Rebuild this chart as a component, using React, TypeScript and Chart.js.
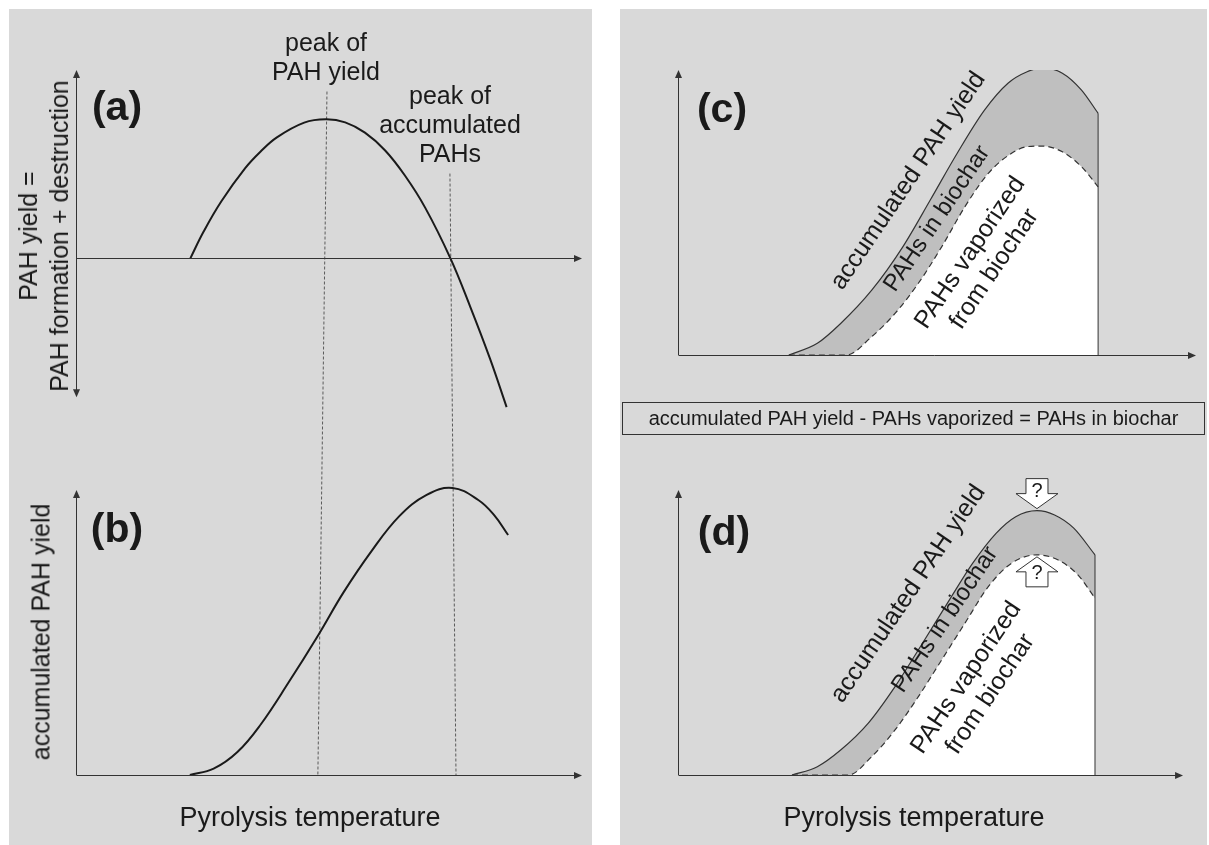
import React, { useEffect, useRef } from "react";
import { Chart, registerables } from "chart.js";

Chart.register(...registerables);

// ---------------- values ----------------
// x = pyrolysis temperature on a schematic 0–100 scale (axis origin = 0, arrow tip = 100)

// (a) PAH yield = PAH formation + destruction (peak = 1)
const tempA = [22.6, 25.2, 28.7, 33.4, 36.4, 39.7, 45.1, 49.4, 53.2, 57.1, 61.1, 65.0, 69.0, 74.0, 77.9, 81.8, 85.1];
const yieldA = [0, 0.191, 0.409, 0.647, 0.765, 0.87, 0.976, 1.0, 0.978, 0.904, 0.776, 0.596, 0.365, 0, -0.347, -0.72, -1.07];

// (b) accumulated PAH yield
const tempB = [22.5, 27.2, 31.9, 36.5, 42.0, 47.9, 52.9, 58.4, 63.9, 69.3, 74.4, 79.5, 82.6, 85.4];
const accB = [0, 0.022, 0.08, 0.176, 0.322, 0.488, 0.637, 0.78, 0.902, 0.976, 1.0, 0.958, 0.906, 0.836];

// (c) accumulated PAH yield and PAHs vaporized from biochar
const tempCAcc = [21.4, 26.9, 31.4, 37.4, 43.4, 48.7, 53.9, 59.2, 63.7, 67.4, 70.4, 74.2, 77.9, 81.1];
const accC = [0, 0.041, 0.11, 0.226, 0.377, 0.54, 0.703, 0.854, 0.947, 0.987, 1.0, 0.982, 0.923, 0.842];
const tempCVap = [21.4, 32.5, 37.4, 41.9, 46.4, 50.9, 55.4, 59.9, 64.4, 67.4, 70.4, 74.2, 77.9, 81.1];
const vapC = [0, 0, 0.064, 0.145, 0.25, 0.377, 0.517, 0.633, 0.703, 0.726, 0.728, 0.708, 0.656, 0.586];

// (d) accumulated PAH yield and PAHs vaporized from biochar
const tempDAcc = [22.0, 26.9, 31.4, 36.7, 41.9, 47.2, 52.4, 56.9, 61.4, 65.2, 69.3, 72.7, 76.4, 80.5];
const accD = [0, 0.029, 0.087, 0.18, 0.308, 0.459, 0.61, 0.738, 0.842, 0.9, 0.921, 0.906, 0.86, 0.767];
const tempDVap = [22.0, 32.9, 37.4, 41.9, 46.4, 50.9, 55.4, 59.9, 64.4, 69.3, 73.4, 77.2, 80.5];
const vapD = [0, 0, 0.064, 0.157, 0.273, 0.401, 0.529, 0.656, 0.738, 0.767, 0.749, 0.697, 0.616];

// dotted guides: temperature of each peak at their top end (panel a) and bottom end (panel b)
const guideTopTemp = [49.6, 73.9];
const guideBottomTemp = [47.8, 75.1];
const guideTopLevel = [1.2, 0.61];

// scale ranges of each panel's value axis
const rangeA = [-3.717, 1.355];
const rangeB = [0, 2.456];
const rangeC = [-1.463, 0.993];
const rangeD = [0, 2.456];

// ---------------- styles ----------------
const FONT = '"Liberation Sans", Arial, Helvetica, sans-serif';
const INK = "#1a1a1a";
const AXIS = "#333333";
const PANEL_BG = "#d9d9d9";
const BAND = "#bfbfbf";

const toXY = (xs: number[], ys: number[]) => xs.map((x, i) => ({ x, y: ys[i] }));
const last = (a: number[]) => a[a.length - 1];

function arrowHead(ctx: CanvasRenderingContext2D, x: number, y: number, dir: "up" | "down" | "right") {
  const L = 8, W = 3.5;
  ctx.beginPath();
  if (dir === "right") {
    ctx.moveTo(x, y); ctx.lineTo(x - L, y - W); ctx.lineTo(x - L, y + W);
  } else if (dir === "up") {
    ctx.moveTo(x, y); ctx.lineTo(x - W, y + L); ctx.lineTo(x + W, y + L);
  } else {
    ctx.moveTo(x, y); ctx.lineTo(x - W, y - L); ctx.lineTo(x + W, y - L);
  }
  ctx.closePath();
  ctx.fill();
}

const schematicPlugin = {
  id: "schematic",
  beforeDatasetsDraw(chart: any, _a: any, opts: any) {
    const ctx: CanvasRenderingContext2D = chart.ctx;
    const xs = chart.scales.x;
    ctx.save();
    ctx.strokeStyle = "#5a5a5a";
    ctx.lineWidth = 1;
    ctx.setLineDash([3, 2]);
    (opts.guides || []).forEach((g: any) => {
      ctx.beginPath();
      ctx.moveTo(xs.getPixelForValue(g.x1), chart.scales[g.axis1].getPixelForValue(g.y1));
      ctx.lineTo(xs.getPixelForValue(g.x2), chart.scales[g.axis2].getPixelForValue(g.y2));
      ctx.stroke();
    });
    ctx.restore();
  },
  afterDatasetsDraw(chart: any, _a: any, opts: any) {
    const ctx: CanvasRenderingContext2D = chart.ctx;
    const xs = chart.scales.x;
    ctx.save();
    ctx.strokeStyle = AXIS;
    ctx.fillStyle = AXIS;
    ctx.lineWidth = 1;
    (opts.axes || []).forEach((a: any) => {
      const ys = chart.scales[a.axis];
      const x0 = Math.round(xs.getPixelForValue(0)) + 0.5;
      const xEnd = xs.getPixelForValue(a.xTo);
      const yBase = Math.round(ys.getPixelForValue(0)) + 0.5;
      const yTop = ys.getPixelForValue(a.yTo);
      const yBot = ys.getPixelForValue(a.yFrom);
      ctx.beginPath();
      ctx.moveTo(x0, yBase);
      ctx.lineTo(xEnd - 6, yBase);
      ctx.stroke();
      arrowHead(ctx, xEnd, yBase, "right");
      ctx.beginPath();
      ctx.moveTo(x0, a.double ? yBot - 6 : yBot);
      ctx.lineTo(x0, yTop + 6);
      ctx.stroke();
      arrowHead(ctx, x0, yTop, "up");
      if (a.double) arrowHead(ctx, x0, yBot, "down");
    });
    (opts.marks || []).forEach((m: any) => {
      const ys = chart.scales[m.axis];
      let k = 0;
      m.ys.forEach((v: number, i: number) => { if (v > m.ys[k]) k = i; });
      const tx = xs.getPixelForValue(m.xs[k]);
      const s = m.dir === "down" ? -1 : 1;
      const ty = ys.getPixelForValue(m.ys[k]) + 2 * s;
      const headL = 15, headW = 21, boxW = 11, boxL = 15;
      ctx.beginPath();
      ctx.moveTo(tx, ty);
      ctx.lineTo(tx + headW, ty + s * headL);
      ctx.lineTo(tx + boxW, ty + s * headL);
      ctx.lineTo(tx + boxW, ty + s * (headL + boxL));
      ctx.lineTo(tx - boxW, ty + s * (headL + boxL));
      ctx.lineTo(tx - boxW, ty + s * headL);
      ctx.lineTo(tx - headW, ty + s * headL);
      ctx.closePath();
      ctx.fillStyle = "#ffffff";
      ctx.fill();
      ctx.strokeStyle = AXIS;
      ctx.stroke();
      ctx.fillStyle = INK;
      ctx.font = `20px ${FONT}`;
      ctx.textAlign = "center";
      ctx.textBaseline = "middle";
      ctx.fillText("?", tx, ty + s * (headL + 2));
    });
    ctx.restore();
  },
};

const curve = (xs: number[], ys: number[], axis: string, extra: any = {}) => ({
  data: toXY(xs, ys),
  yAxisID: axis,
  pointRadius: 0,
  cubicInterpolationMode: "monotone",
  fill: false,
  ...extra,
});

const baseOptions = (padding: any, scales: any, schematic: any) => ({
  responsive: false,
  animation: false,
  events: [],
  layout: { padding },
  scales,
  plugins: { legend: { display: false }, tooltip: { enabled: false }, schematic },
});

function leftConfig(): any {
  return {
    type: "line",
    data: {
      datasets: [
        curve(tempA, yieldA, "ya", { borderColor: INK, borderWidth: 2, cubicInterpolationMode: "default", tension: 0.4 }),
        curve(tempB, accB, "yb", { borderColor: INK, borderWidth: 2, cubicInterpolationMode: "default", tension: 0.4 }),
      ],
    },
    options: baseOptions(
      { left: 67, right: 10, top: 61, bottom: 70 },
      {
        x: { type: "linear", min: 0, max: 100, display: false },
        ya: { type: "linear", position: "left", min: rangeA[0], max: rangeA[1], display: false },
        yb: { type: "linear", position: "left", min: rangeB[0], max: rangeB[1], display: false },
      },
      {
        guides: guideTopTemp.map((t, i) => ({
          x1: t, y1: guideTopLevel[i], axis1: "ya",
          x2: guideBottomTemp[i], y2: 0, axis2: "yb",
        })),
        axes: [
          { axis: "ya", yFrom: -1.0, yTo: rangeA[1], xTo: 100, double: true },
          { axis: "yb", yFrom: 0, yTo: 0.993, xTo: 100 },
        ],
      }
    ),
    plugins: [schematicPlugin],
  };
}

function panelSets(tAcc: number[], acc: number[], tVap: number[], vap: number[], axis: string) {
  return [
    {
      data: [{ x: last(tAcc), y: 0 }, { x: last(tAcc), y: last(acc) }],
      yAxisID: axis, pointRadius: 0, borderColor: AXIS, borderWidth: 1, fill: false, order: -1,
    },
    curve(tVap, vap, axis, {
      borderColor: AXIS, borderWidth: 1.2, borderDash: [6, 4],
      fill: { value: 0 }, backgroundColor: "#ffffff", order: 0,
    }),
    curve(tAcc, acc, axis, {
      borderColor: AXIS, borderWidth: 1.2,
      fill: { value: 0 }, backgroundColor: BAND, order: 1,
    }),
  ];
}

function rightConfig(): any {
  return {
    type: "line",
    data: {
      datasets: [
        ...panelSets(tempCAcc, accC, tempCVap, vapC, "yc"),
        ...panelSets(tempDAcc, accD, tempDVap, vapD, "yd"),
      ],
    },
    options: baseOptions(
      { left: 58, right: 11, top: 61, bottom: 70 },
      {
        x: { type: "linear", min: 0, max: 100, display: false },
        yc: { type: "linear", position: "left", min: rangeC[0], max: rangeC[1], display: false },
        yd: { type: "linear", position: "left", min: rangeD[0], max: rangeD[1], display: false },
      },
      {
        axes: [
          { axis: "yc", yFrom: 0, yTo: 0.993, xTo: 100 },
          { axis: "yd", yFrom: 0, yTo: 0.993, xTo: 97.5 },
        ],
        marks: [
          { axis: "yd", xs: tempDAcc, ys: accD, dir: "down" },
          { axis: "yd", xs: tempDVap, ys: vapD, dir: "up" },
        ],
      }
    ),
    plugins: [schematicPlugin],
  };
}

type LabelProps = {
  lines: string[];
  cx: number;
  cy: number;
  size?: number;
  lh?: number;
  rot?: number;
  bold?: boolean;
};

function Label({ lines, cx, cy, size = 25, lh, rot = 0, bold = false }: LabelProps) {
  return (
    <div
      style={{
        position: "absolute",
        left: cx,
        top: cy,
        transform: `translate(-50%, -50%) rotate(${rot}deg)`,
        whiteSpace: "nowrap",
        textAlign: "center",
        fontFamily: FONT,
        fontSize: size,
        fontWeight: bold ? 700 : 400,
        lineHeight: `${lh ?? Math.round(size * 1.15)}px`,
        color: INK,
      }}
    >
      {lines.map((l, i) => (
        <div key={i}>{l}</div>
      ))}
    </div>
  );
}

export default function App() {
  const leftRef = useRef<HTMLCanvasElement>(null);
  const rightRef = useRef<HTMLCanvasElement>(null);

  useEffect(() => {
    const left = new Chart(leftRef.current as HTMLCanvasElement, leftConfig());
    const right = new Chart(rightRef.current as HTMLCanvasElement, rightConfig());
    return () => {
      left.destroy();
      right.destroy();
    };
  }, []);

  const panel = (left: number, width: number): React.CSSProperties => ({
    position: "absolute",
    left,
    top: 9,
    width,
    height: 836,
    background: PANEL_BG,
  });

  return (
    <div
      style={{
        position: "fixed",
        left: 0,
        top: 0,
        width: 1209,
        height: 845,
        background: "#ffffff",
        overflow: "hidden",
      }}
    >
      <div style={panel(9, 583)} />
      <div style={panel(620, 587)} />
      <canvas
        ref={leftRef}
        width={583}
        height={836}
        style={{ position: "absolute", left: 9, top: 9, width: 583, height: 836 }}
      />
      <canvas
        ref={rightRef}
        width={587}
        height={836}
        style={{ position: "absolute", left: 620, top: 9, width: 587, height: 836 }}
      />

      {/* left panel texts */}
      <Label lines={["peak of", "PAH yield"]} cx={326} cy={57} lh={29} />
      <Label lines={["peak of", "accumulated", "PAHs"]} cx={450} cy={124} lh={29} />
      <Label lines={["(a)"]} cx={117} cy={106} size={41} bold />
      <Label lines={["(b)"]} cx={117} cy={528} size={41} bold />
      <Label lines={["PAH yield =", "PAH formation + destruction"]} cx={44} cy={236} rot={-90} lh={31} />
      <Label lines={["accumulated PAH yield"]} cx={41} cy={632} rot={-90} />
      <Label lines={["Pyrolysis temperature"]} cx={310} cy={817} size={27} />

      {/* right panel texts */}
      <Label lines={["(c)"]} cx={722} cy={108} size={41} bold />
      <Label lines={["(d)"]} cx={724} cy={531} size={41} bold />
      <Label lines={["accumulated PAH yield"]} cx={907} cy={180} rot={-56} />
      <Label lines={["PAHs in biochar"]} cx={936} cy={218} rot={-56} size={24} />
      <Label lines={["PAHs vaporized", "from biochar"]} cx={981} cy={260} rot={-56} lh={29} />
      <Label lines={["accumulated PAH yield"]} cx={907} cy={593} rot={-56} />
      <Label lines={["PAHs in biochar"]} cx={944} cy={619} rot={-56} size={24} />
      <Label lines={["PAHs vaporized", "from biochar"]} cx={977} cy={685} rot={-56} lh={29} />
      <Label lines={["Pyrolysis temperature"]} cx={914} cy={817} size={27} />

      <div
        style={{
          position: "absolute",
          left: 622,
          top: 402,
          width: 583,
          height: 33,
          boxSizing: "border-box",
          border: `1.5px solid ${AXIS}`,
          display: "flex",
          alignItems: "center",
          justifyContent: "center",
          fontFamily: FONT,
          fontSize: 20,
          color: INK,
          whiteSpace: "nowrap",
        }}
      >
        accumulated PAH yield - PAHs vaporized = PAHs in biochar
      </div>
    </div>
  );
}
